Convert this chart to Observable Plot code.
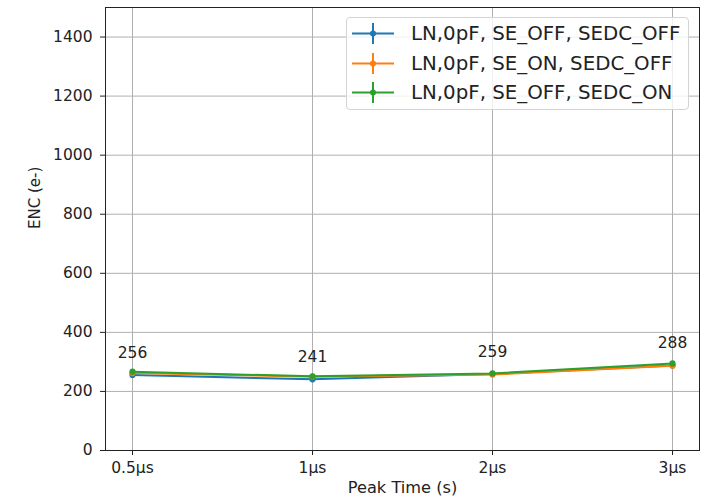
<!DOCTYPE html>
<html>
<head>
<meta charset="utf-8">
<script src="https://cdn.jsdelivr.net/npm/d3@7"></script>
<script src="https://cdn.jsdelivr.net/npm/@observablehq/plot@0.6"></script>
<style>
  html, body { margin: 0; padding: 0; background: #fff; }
  #wrap { position: relative; width: 705px; height: 501px; font-family: "DejaVu Sans", sans-serif; }
  #legend { position: absolute; left: 346px; top: 17px; width: 343px; height: 93px;
    background: rgba(255,255,255,0.8); border: 1px solid #d4d4d4; border-radius: 4px; box-sizing: border-box; }
  .row { position: absolute; left: 0; height: 29px; display: flex; align-items: center; }
  .row span { font-size: 19.8px; color: #222; margin-left: 16px; white-space: nowrap; }
</style>
</head>
<body>
<div id="wrap"><div id="legend"></div></div>
<script>
const peakTimes = ["0.5µs", "1µs", "2µs", "3µs"];
const seriesNames = ["LN,0pF, SE_OFF, SEDC_OFF", "LN,0pF, SE_ON, SEDC_OFF", "LN,0pF, SE_OFF, SEDC_ON"];
const seriesColors = ["#1f77b4", "#ff7f0e", "#2ca02c"];
const encSeOffSedcOff = [256, 241, 259, 288];
const encSeOnSedcOff = [262, 250, 257, 287];
const encSeOffSedcOn = [267, 251, 261, 295];
const yTicks = [0, 200, 400, 600, 800, 1000, 1200, 1400];

const seriesValues = [encSeOffSedcOff, encSeOnSedcOff, encSeOffSedcOn];
const series = seriesNames.map((name, s) => peakTimes.map((t, i) => ({series: name, i, t, enc: seriesValues[s][i]})));
const labelRows = series[0];

const grid = "#b0b0b0";
const seriesMarks = series.flatMap((rows, s) => [
  Plot.line(rows, {x: "i", y: "enc", stroke: seriesColors[s], strokeWidth: 2}),
  Plot.dot(rows, {x: "i", y: "enc", fill: seriesColors[s], r: 3.1, stroke: "none"})
]);

const chart = Plot.plot({
  width: 705,
  height: 501,
  marginLeft: 105,
  marginRight: 6,
  marginTop: 7,
  marginBottom: 51,
  style: {fontFamily: "DejaVu Sans", fontSize: "15.5px", color: "#222", background: "transparent"},
  x: {type: "linear", domain: [-0.15, 3.15]},
  y: {domain: [0, 1500]},
  marks: [
    Plot.gridX([0, 1, 2, 3], {stroke: grid, strokeOpacity: 1, strokeWidth: 1}),
    Plot.gridY(yTicks, {stroke: grid, strokeOpacity: 1, strokeWidth: 1}),
    ...seriesMarks,
    Plot.text(labelRows, {x: "i", y: "enc", text: d => String(d.enc), dy: -22, fill: "#222", fontSize: 15.5}),
    Plot.frame({stroke: "#222", strokeWidth: 1}),
    Plot.axisX([0, 1, 2, 3], {tickFormat: i => peakTimes[i], tickSize: 5, tickPadding: 6, label: null, stroke: "#222", fill: "#222"}),
    Plot.axisY(yTicks, {tickFormat: d => String(d), tickSize: 5, tickPadding: 8, label: null, stroke: "#222", fill: "#222"}),
    Plot.text(["Peak Time (s)"], {frameAnchor: "bottom", dy: 42, fill: "#222", fontSize: 16.2}),
    Plot.text(["ENC (e-)"], {frameAnchor: "left", dx: -70, rotate: -90, fill: "#222", fontSize: 15})
  ]
});
chart.style.position = "absolute";
chart.style.left = "0";
chart.style.top = "0";
const wrap = document.getElementById("wrap");
wrap.insertBefore(chart, wrap.firstChild);

// legend
const legend = document.getElementById("legend");
seriesNames.forEach((name, s) => {
  const row = document.createElement("div");
  row.className = "row";
  row.style.top = (1 + s * 29.5) + "px";
  const sw = d3.create("svg").attr("width", 48).attr("height", 29);
  sw.append("line").attr("x1", 5).attr("x2", 47).attr("y1", 14.5).attr("y2", 14.5).attr("stroke", seriesColors[s]).attr("stroke-width", 2);
  sw.append("line").attr("x1", 26).attr("x2", 26).attr("y1", 4).attr("y2", 25).attr("stroke", seriesColors[s]).attr("stroke-width", 2);
  sw.append("circle").attr("cx", 26).attr("cy", 14.5).attr("r", 3).attr("fill", seriesColors[s]);
  row.appendChild(sw.node());
  const span = document.createElement("span");
  span.textContent = name;
  row.appendChild(span);
  legend.appendChild(row);
});
</script>
</body>
</html>
